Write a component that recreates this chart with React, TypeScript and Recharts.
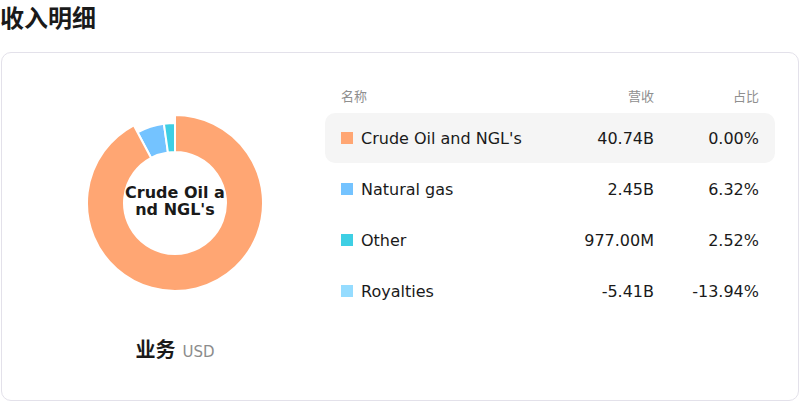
import { PieChart, Pie, Cell } from "recharts";

// 收入明细 — 业务 (USD)
const names = ["Crude Oil and NGL's", "Natural gas", "Other", "Royalties"];
const revenue = [40.74e9, 2.45e9, 977e6, -5.41e9];
const revenueLabels = ["40.74B", "2.45B", "977.00M", "-5.41B"];
const shareLabels = ["0.00%", "6.32%", "2.52%", "-13.94%"];
const colors = ["#FFA673", "#74C3FF", "#3ECFE4", "#95DCFF"];
const activeIdx = 0; // 선택(강조)된 항목

const FONT = "'DejaVu Sans', 'Noto Sans CJK SC', sans-serif";
const CJK = "'Noto Sans CJK SC', 'DejaVu Sans', sans-serif";

// 음수(Royalties)는 파이에 그릴 수 없으니 제외
const pieData = names
  .map((name, i) => ({ name, value: revenue[i], color: colors[i], idx: i }))
  .filter((d) => d.value > 0);

export default function App() {
  return (
    <div style={{ position: "relative", width: 800, height: 402, fontFamily: FONT, color: "#1a1a1a" }}>
      <style>{"body{margin:0}"}</style>
      <div style={{
        position: "absolute", left: 0, top: 0, fontFamily: CJK, fontWeight: 700,
        fontSize: 24, lineHeight: "33px",
      }}>收入明细</div>

      <div style={{
        position: "absolute", left: 1, top: 52, width: 798, height: 349, boxSizing: "border-box",
        border: "1px solid #e3e1ea", borderRadius: 10,
      }} />

      <div style={{ position: "absolute", left: 0, top: 28 }}>
        <PieChart width={350} height={350} margin={{ top: 0, right: 0, bottom: 0, left: 0 }}>
          {/* 기본 링 */}
          <Pie data={pieData} dataKey="value" nameKey="name" cx={175} cy={175}
               innerRadius={51} outerRadius={80} startAngle={90} endAngle={-270}
               stroke="#fff" strokeWidth={2} isAnimationActive={false}>
            {pieData.map((d) => <Cell key={d.name} fill={d.color} />)}
          </Pie>
          {/* 강조 조각만 바깥 반지름을 키워 위에 덧그림 */}
          <Pie data={pieData} dataKey="value" nameKey="name" cx={175} cy={175}
               innerRadius={51} outerRadius={88} startAngle={90} endAngle={-270}
               isAnimationActive={false}>
            {pieData.map((d) => (
              <Cell key={d.name}
                    fill={d.idx === activeIdx ? d.color : "none"}
                    stroke={d.idx === activeIdx ? "#fff" : "none"}
                    strokeWidth={2} />
            ))}
          </Pie>
        </PieChart>
      </div>

      <div style={{
        position: "absolute", left: 123, top: 184, width: 104, textAlign: "center",
        wordBreak: "break-all", fontWeight: 700, fontSize: 16, lineHeight: "17px",
        pointerEvents: "none",
      }}>{names[activeIdx]}</div>

      <div style={{ position: "absolute", left: 0, top: 335, width: 350, textAlign: "center", lineHeight: "28px" }}>
        <span style={{ fontFamily: CJK, fontWeight: 700, fontSize: 20 }}>业务</span>
        <span style={{ fontSize: 15, color: "#8c8c8c", marginLeft: 7 }}>USD</span>
      </div>

      <div style={{ position: "absolute", left: 325, top: 82, width: 450 }}>
        <div style={{ display: "flex", height: 26, alignItems: "center", fontSize: 13, color: "#8f8f8f", fontFamily: CJK }}>
          <div style={{ width: 329, display: "flex", justifyContent: "space-between", paddingLeft: 16, boxSizing: "border-box" }}>
            <span>名称</span><span>营收</span>
          </div>
          <div style={{ width: 105, textAlign: "right" }}>占比</div>
        </div>
        <div style={{ height: 5 }} />
        {names.map((n, i) => (
          <div key={n} style={{
            display: "flex", height: 50, marginBottom: 1, alignItems: "center", fontSize: 16,
            background: i === activeIdx ? "#f5f5f5" : "transparent", borderRadius: 10,
          }}>
            <div style={{ width: 329, display: "flex", alignItems: "center", paddingLeft: 16, boxSizing: "border-box" }}>
              <span style={{ width: 12, height: 12, background: colors[i], marginRight: 8, flex: "none" }} />
              <span style={{ flex: 1 }}>{n}</span>
              <span>{revenueLabels[i]}</span>
            </div>
            <div style={{ width: 105, textAlign: "right" }}>{shareLabels[i]}</div>
          </div>
        ))}
      </div>
    </div>
  );
}
